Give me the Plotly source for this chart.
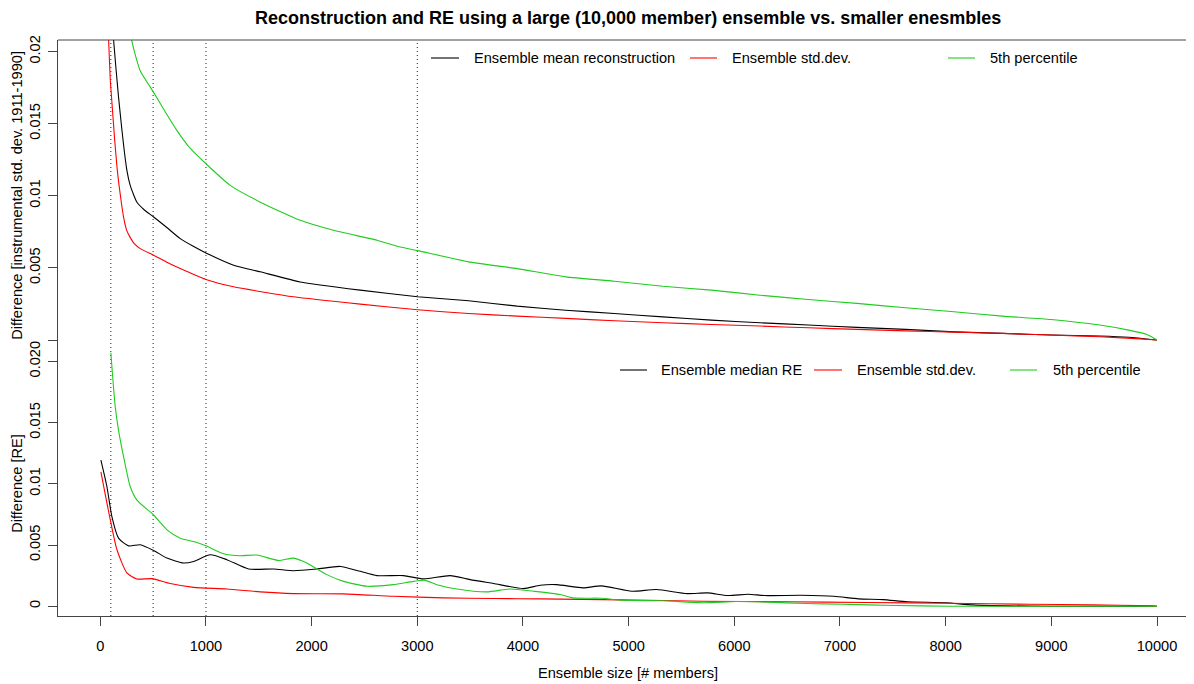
import plotly.graph_objects as go

# ---------------- data ----------------
# Top panel: reconstruction differences
recon_mean_x = [100, 126, 173, 252, 284, 347, 420, 505, 630, 757, 880, 1000, 1262, 1514, 1892, 2460,
                3003, 3486, 3945, 4405, 4865, 5324, 5783, 6242, 6701, 7161, 7620, 8079, 8538, 8997,
                9457, 9732, 10000]
recon_mean_y = [0.0235, 0.0208, 0.01683, 0.01176, 0.01070, 0.00955, 0.0090, 0.00853, 0.0078, 0.00703,
                0.0065, 0.00604, 0.00519, 0.00473, 0.00403, 0.00346, 0.00300, 0.00272, 0.00235, 0.00207,
                0.00184, 0.00161, 0.00138, 0.00120, 0.00104, 0.00088, 0.00074, 0.00057, 0.00046, 0.00035,
                0.00028, 0.00019, 0.0]

recon_sd_x = [60, 79, 95, 110, 135, 158, 173, 200, 221, 250, 284, 320, 378, 505, 630, 757, 1000, 1262,
              1829, 2460, 3003, 3486, 3945, 4405, 4865, 5324, 5783, 6242, 6701, 7161, 7620, 8079, 8538,
              8997, 9457, 9800, 10000]
recon_sd_y = [0.0240, 0.0208, 0.0180, 0.0165, 0.0140, 0.0120, 0.0110, 0.0095, 0.0085, 0.0076, 0.0071,
              0.0067, 0.00634, 0.00588, 0.0054, 0.00496, 0.00420, 0.00369, 0.00300, 0.00249, 0.00210,
              0.00184, 0.00166, 0.00150, 0.00134, 0.00120, 0.00108, 0.00097, 0.00085, 0.00074, 0.00064,
              0.00055, 0.00046, 0.00035, 0.00023, 0.00010, 0.0]

recon_p5_x = [100, 200, 300, 378, 505, 600, 726, 850, 1000, 1230, 1514, 1892, 2207, 2618, 2838, 3003,
              3486, 3945, 4405, 4865, 5324, 5783, 6242, 6701, 7161, 7620, 8079, 8538, 8997, 9457, 9732,
              9900, 10000]
recon_p5_y = [0.040, 0.027, 0.0207, 0.01867, 0.01717, 0.0160, 0.01452, 0.0133, 0.01222, 0.01072, 0.00956,
              0.00830, 0.00761, 0.00692, 0.00645, 0.00620, 0.00542, 0.00495, 0.00438, 0.00408, 0.00373,
              0.00346, 0.00311, 0.00281, 0.00254, 0.00224, 0.00196, 0.00166, 0.00143, 0.00104, 0.00069,
              0.0004, 0.0]

# Bottom panel: RE differences
re_median_x = [6, 63, 110, 173, 268, 378, 505, 631, 788, 883, 1041, 1198, 1403, 1640, 1829, 2050, 2271,
               2460, 2618, 2870, 3059, 3311, 3500, 3721, 4005, 4163, 4317, 4569, 4742, 5031, 5263, 5553,
               5746, 5939, 6132, 6286, 6634, 6943, 7175, 7407, 7638, 8000, 8256, 8604, 9000, 9500, 10000]
re_median_y = [0.01193, 0.00976, 0.00732, 0.00556, 0.00493, 0.00502, 0.00455, 0.00393, 0.00353, 0.00366,
               0.00420, 0.00380, 0.00304, 0.00304, 0.00290, 0.00304, 0.00325, 0.00285, 0.00250, 0.00250,
               0.00223, 0.00250, 0.00217, 0.00185, 0.00144, 0.00171, 0.00176, 0.00150, 0.00166, 0.00122,
               0.00136, 0.00103, 0.00109, 0.00087, 0.00098, 0.00087, 0.00089, 0.00081, 0.00060, 0.00054,
               0.00036, 0.00028, 0.00011, 0.00003, 0.0, 0.0, 0.0]

re_sd_x = [6, 95, 158, 252, 347, 489, 662, 883, 1198, 1514, 1829, 2302, 2775, 3248, 3721, 4163, 4935,
           5708, 6480, 7252, 8025, 8797, 9376, 9955, 10000]
re_sd_y = [0.01098, 0.00705, 0.00461, 0.00272, 0.00223, 0.00225, 0.00185, 0.00154, 0.00141, 0.00117,
           0.00103, 0.00101, 0.00081, 0.00068, 0.00063, 0.00060, 0.00052, 0.00041, 0.00036, 0.00030,
           0.00024, 0.00016, 0.00011, 0.00003, 0.0]

re_p5_x = [100, 142, 173, 221, 284, 347, 505, 631, 757, 883, 1000, 1167, 1325, 1482, 1687, 1829, 1955,
           2144, 2302, 2523, 2775, 2964, 3075, 3185, 3374, 3658, 3879, 4100, 4352, 4472, 4742, 4935,
           5321, 5708, 6016, 6325, 6673, 7020, 7522, 8025, 9000, 9800, 10000]
re_p5_y = [0.0207, 0.01626, 0.01437, 0.0122, 0.00976, 0.00867, 0.00745, 0.00624, 0.00556, 0.00528,
           0.00493, 0.00428, 0.00412, 0.00418, 0.00374, 0.00393, 0.00353, 0.00258, 0.00203, 0.00163,
           0.00176, 0.00203, 0.00211, 0.00176, 0.00141, 0.00117, 0.00141, 0.00122, 0.00095, 0.00068,
           0.00065, 0.00049, 0.00044, 0.00028, 0.00038, 0.00033, 0.00022, 0.00016, 0.00006, 0.0, 0.0,
           0.0, 0.0]

marker_sizes = [100, 500, 1000, 3000]   # dotted reference lines

x_ticks = [0, 1000, 2000, 3000, 4000, 5000, 6000, 7000, 8000, 9000, 10000]
top_ticks = [0, 0.005, 0.01, 0.015, 0.02]
top_tick_labels = ["", "0.005", "0.01", "0.015", "0.02"]
bot_ticks = [0, 0.005, 0.01, 0.015, 0.02]
bot_tick_labels = ["0", "0.005", "0.01", "0.015", "0.020"]

top_legend = ["Ensemble mean reconstruction", "Ensemble std.dev.", "5th percentile"]
bot_legend = ["Ensemble median RE", "Ensemble std.dev.", "5th percentile"]

# ---------------- styling ----------------
BLACK = "#000000"
RED = "#ff0000"
GREEN = "#1fcc1f"
FONT = "Liberation Sans, Arial, sans-serif"
FS = 14.6

OFF = 8                      # page body margin offset
WIN_W, WIN_H = 1194, 684
W, H = WIN_W - OFF, WIN_H - OFF
# plot area in window pixels: x 58..1194, y 40..616
L, T = 58 - OFF, 40 - OFF
B = H - (616 - OFF)
R = 0
PW, PH = W - L - R, H - T - B


def px(xw):
    return (xw - OFF - L) / PW


def py(yw):
    return (H - B - (yw - OFF)) / PH


split = py(351.6)

fig = go.Figure()

def add(xs, ys, color, yax, shape="spline", smooth=0.6):
    fig.add_trace(go.Scatter(x=xs, y=ys, mode="lines", xaxis="x", yaxis=yax,
                             line=dict(color=color, width=1.1, shape=shape, smoothing=smooth),
                             showlegend=False, hoverinfo="skip"))

add(recon_mean_x, recon_mean_y, BLACK, "y", smooth=0.5)
add(recon_sd_x, recon_sd_y, RED, "y", smooth=0.5)
add(recon_p5_x, recon_p5_y, GREEN, "y", smooth=0.5)
add(re_median_x, re_median_y, BLACK, "y2")
add(re_sd_x, re_sd_y, RED, "y2")
add(re_p5_x, re_p5_y, GREEN, "y2")

shapes = []
for m in marker_sizes:
    shapes.append(dict(type="line", xref="x", yref="paper", x0=m, x1=m, y0=0, y1=1,
                       line=dict(color="#222222", width=1, dash="1px,3px"), layer="below"))
# top frame line
shapes.append(dict(type="line", xref="paper", yref="paper", x0=0, x1=1, y0=1, y1=1,
                   line=dict(color="#444444", width=1)))

annotations = []

def legend(items, colors, line_x, text_x, ypix):
    for it, c, (a, b), tx in zip(items, colors, line_x, text_x):
        shapes.append(dict(type="line", xref="paper", yref="paper", x0=px(a), x1=px(b),
                           y0=py(ypix), y1=py(ypix), line=dict(color=c, width=1.1)))
        annotations.append(dict(text=it, xref="paper", yref="paper", x=px(tx), y=py(ypix),
                                xanchor="left", yanchor="middle", showarrow=False,
                                font=dict(family=FONT, size=FS, color="#000")))

legend(top_legend, [BLACK, RED, GREEN], [(431, 459), (690, 717), (948, 975)], [472, 730, 988], 58)
legend(bot_legend, [BLACK, RED, GREEN], [(620, 647), (814, 842), (1010, 1037)], [659, 855, 1051], 370)

annotations.append(dict(text="<b>Reconstruction and RE using a large (10,000 member) ensemble vs. smaller enesmbles</b>",
                        xref="paper", yref="paper", x=px(628), y=py(18), xanchor="center", yanchor="middle",
                        showarrow=False, font=dict(family=FONT, size=18, color="#000")))
annotations.append(dict(text="Ensemble size [# members]", xref="paper", yref="paper", x=px(628), y=py(673),
                        xanchor="center", yanchor="middle", showarrow=False,
                        font=dict(family=FONT, size=FS, color="#000")))
annotations.append(dict(text="Difference [instrumental std. dev. 1911-1990]", xref="paper", yref="paper",
                        x=px(17), y=py(195.8), xanchor="center", yanchor="middle", textangle=-90,
                        showarrow=False, font=dict(family=FONT, size=FS, color="#000")))
annotations.append(dict(text="Difference [RE]", xref="paper", yref="paper",
                        x=px(17), y=py(483.8), xanchor="center", yanchor="middle", textangle=-90,
                        showarrow=False, font=dict(family=FONT, size=FS, color="#000")))

axis_common = dict(showgrid=False, zeroline=False, showline=True, linecolor="#444444", linewidth=1,
                   ticks="outside", ticklen=9, tickcolor="#444444", tickwidth=1,
                   tickfont=dict(family=FONT, size=FS, color="#000"))

fig.update_layout(
    width=W, height=H, autosize=False,
    margin=dict(l=L, r=R, t=T, b=B, pad=0),
    paper_bgcolor="white", plot_bgcolor="white",
    showlegend=False,
    xaxis=dict(range=[-400, 10350], anchor="y2", tickmode="array", tickvals=x_ticks,
               ticktext=[str(v) for v in x_ticks], ticklabelstandoff=7, **axis_common),
    yaxis=dict(domain=[split, 1], range=[-0.0008, 0.0208], anchor="x", tickmode="array",
               tickvals=top_ticks, ticktext=top_tick_labels, tickangle=-90, ticklabelstandoff=2,
               **axis_common),
    yaxis2=dict(domain=[0, split], range=[-0.0008, 0.0208], anchor="x", tickmode="array",
                tickvals=bot_ticks, ticktext=bot_tick_labels, tickangle=-90, ticklabelstandoff=2,
                **axis_common),
    shapes=shapes,
    annotations=annotations,
)

fig.write_html("out.html")
